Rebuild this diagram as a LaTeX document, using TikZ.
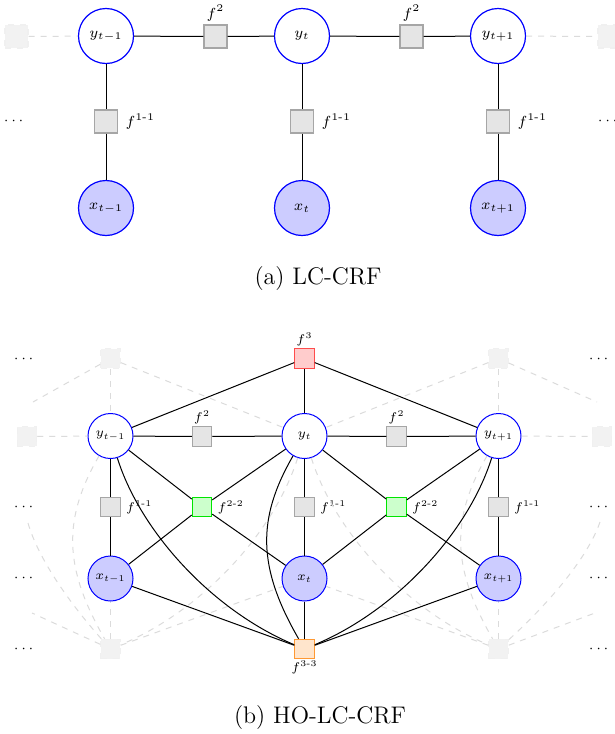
\RequirePackage{fix-cm}
\documentclass[tikz,border=0pt]{standalone}
\usepackage{amsmath}
\usetikzlibrary{positioning}
\begin{document}
\begin{tikzpicture}[x=0.5pt,y=-0.5pt,
  % top graph (a)
  vara/.style={circle,draw=blue,line width=0.6pt,minimum size=27.5pt,inner sep=0pt,
               font=\fontsize{7.3}{9}\selectfont},
  obsa/.style={vara,fill=blue!20},
  faca/.style={rectangle,draw=gray!70,fill=gray!20,line width=0.6pt,minimum size=11.5pt,inner sep=0pt},
  ghosta/.style={faca,draw=gray!12,fill=gray!10,dashed},
  lbla/.style={font=\fontsize{7.3}{9}\selectfont,inner sep=2pt},
  % bottom graph (b)
  varb/.style={circle,draw=blue,line width=0.5pt,minimum size=22.5pt,inner sep=0pt,
               font=\fontsize{6.3}{8}\selectfont},
  obsb/.style={varb,fill=blue!20},
  facb/.style={rectangle,draw=gray!70,fill=gray!20,line width=0.5pt,minimum size=9.75pt,inner sep=0pt},
  ghostb/.style={facb,draw=gray!12,fill=gray!10,dashed},
  lblb/.style={font=\fontsize{6.3}{8}\selectfont,inner sep=2pt},
  edgea/.style={line width=0.5pt},
  edgeb/.style={line width=0.5pt},
  ghostline/.style={draw=gray!28,dashed,line width=0.5pt},
  dotsn/.style={font=\fontsize{7}{8}\selectfont,inner sep=0pt},
  captiontext/.style={font=\fontsize{12}{14}\selectfont}
]
\useasboundingbox (0,0) rectangle (615,734);

% ---------------- (a) LC-CRF ----------------
\node[ghosta] (a-gl) at (16.5,36.5) {};
\node[ghosta] (a-gr) at (609.5,36.5) {};
\node[vara] (a-y1) at (106,36) {$y_{t-1}$};
\node[vara] (a-y2) at (302,36) {$y_t$};
\node[vara] (a-y3) at (498,36) {$y_{t+1}$};
\node[obsa] (a-x1) at (106,208) {$x_{t-1}$};
\node[obsa] (a-x2) at (302,208) {$x_t$};
\node[obsa] (a-x3) at (498,208) {$x_{t+1}$};
\node[faca] (a-f2a) at (215.5,36.5) {};
\node[faca] (a-f2b) at (411.5,36.5) {};
\node[faca] (a-f1a) at (106,121.5) {};
\node[faca] (a-f1b) at (302,121.5) {};
\node[faca] (a-f1c) at (498,121.5) {};
\node[lbla,above=-0.5pt of a-f2a] (a-l2a) {$f^2$};
\node[lbla,above=-0.5pt of a-f2b] (a-l2b) {$f^2$};
\node[lbla,right=1.5pt of a-f1a] (a-l1a) {$f^{\text{1-1}}$};
\node[lbla,right=1.5pt of a-f1b] (a-l1b) {$f^{\text{1-1}}$};
\node[lbla,right=1.5pt of a-f1c] (a-l1c) {$f^{\text{1-1}}$};
\node[dotsn] (a-dl) at (15,121) {$\cdots$};
\node[dotsn] (a-dr) at (609,121) {$\cdots$};

\draw[ghostline] (a-gl) -- (a-y1);
\draw[ghostline] (a-y3) -- (a-gr);
\draw[edgea] (a-y1) -- (a-f2a) -- (a-y2) -- (a-f2b) -- (a-y3);
\draw[edgea] (a-y1) -- (a-f1a) -- (a-x1);
\draw[edgea] (a-y2) -- (a-f1b) -- (a-x2);
\draw[edgea] (a-y3) -- (a-f1c) -- (a-x3);

\node[captiontext] (a-cap) at (318,279) {(a) LC-CRF};

% ---------------- (b) HO-LC-CRF ----------------
% faded neighbouring factors
\node[ghostb] (b-gtl) at (110.5,358.5) {};
\node[ghostb] (b-gtr) at (498.5,358.5) {};
\node[ghostb] (b-gml) at (27,436.5) {};
\node[ghostb] (b-gmr) at (602,436.5) {};
\node[ghostb] (b-gbl) at (110.5,649) {};
\node[ghostb] (b-gbr) at (498.5,649) {};
\coordinate (b-etl) at (33,402);
\coordinate (b-etr) at (597,402);
\coordinate (b-ebl) at (32,613);
\coordinate (b-ebr) at (595,613);
\coordinate (b-cbl) at (28,523);
\coordinate (b-cbr) at (600,522);

\node[varb] (b-y1) at (110.5,436) {$y_{t-1}$};
\node[varb] (b-y2) at (304.5,436) {$y_t$};
\node[varb] (b-y3) at (498.5,436) {$y_{t+1}$};
\node[obsb] (b-x1) at (110.5,578.5) {$x_{t-1}$};
\node[obsb] (b-x2) at (304.5,578.5) {$x_t$};
\node[obsb] (b-x3) at (498.5,578.5) {$x_{t+1}$};

\node[facb,draw=red!70,fill=red!20] (b-f3) at (304.5,358.5) {};
\node[facb] (b-f2a) at (202,436.5) {};
\node[facb] (b-f2b) at (396.5,436.5) {};
\node[facb] (b-f1a) at (110.5,507) {};
\node[facb] (b-f1b) at (304.5,507) {};
\node[facb] (b-f1c) at (498.5,507) {};
\node[facb,draw=green!90!black,fill=green!20] (b-f22a) at (202,507) {};
\node[facb,draw=green!90!black,fill=green!20] (b-f22b) at (396.5,507) {};
\node[facb,draw=orange!80,fill=orange!20] (b-f33) at (304.5,649) {};

\node[lblb,above=-1pt of b-f3] (b-l3) {$f^3$};
\node[lblb,above=-1pt of b-f2a] (b-l2a) {$f^2$};
\node[lblb,above=-1pt of b-f2b] (b-l2b) {$f^2$};
\node[lblb,right=0.5pt of b-f1a] (b-l1a) {$f^{\text{1-1}}$};
\node[lblb,right=0.5pt of b-f1b] (b-l1b) {$f^{\text{1-1}}$};
\node[lblb,right=0.5pt of b-f1c] (b-l1c) {$f^{\text{1-1}}$};
\node[lblb,right=0.5pt of b-f22a] (b-l22a) {$f^{\text{2-2}}$};
\node[lblb,right=0.5pt of b-f22b] (b-l22b) {$f^{\text{2-2}}$};
\node[lblb,below=-1.5pt of b-f33] (b-l33) {$f^{\text{3-3}}$};

\foreach \yy/\nm in {359/a,507/b,578/c,649/d}{
  \node[dotsn] (b-dl\nm) at (25,\yy) {$\cdots$};
  \node[dotsn] (b-dr\nm) at (600,\yy) {$\cdots$};
}

% faded connectors
\draw[ghostline] (b-gtl) -- (b-etl);
\draw[ghostline] (b-gtl) -- (b-y1);
\draw[ghostline] (b-gtl) -- (b-y2);
\draw[ghostline] (b-gtr) -- (b-etr);
\draw[ghostline] (b-gtr) -- (b-y3);
\draw[ghostline] (b-gtr) -- (b-y2);
\draw[ghostline] (b-gml) -- (b-y1);
\draw[ghostline] (b-y3) -- (b-gmr);
\draw[ghostline] (b-gbl) -- (b-ebl);
\draw[ghostline] (b-gbl) -- (b-x1);
\draw[ghostline] (b-gbl) -- (b-x2);
\draw[ghostline] (b-cbl) .. controls (40,565) and (80,615) .. (b-gbl);
\draw[ghostline] (b-y1) .. controls (63,518.3) and (63,566.7) .. (b-gbl);
\draw[ghostline] (b-y2) .. controls (274.7,531.5) and (202.8,610.4) .. (b-gbl);
\draw[ghostline] (b-gbr) -- (b-ebr);
\draw[ghostline] (b-gbr) -- (b-x3);
\draw[ghostline] (b-gbr) -- (b-x2);
\draw[ghostline] (b-cbr) .. controls (585,565) and (536,615) .. (b-gbr);
\draw[ghostline] (b-y3) .. controls (451,518.3) and (451,566.7) .. (b-gbr);
\draw[ghostline] (b-y2) .. controls (334.3,531.5) and (406.2,610.4) .. (b-gbr);

% connectors
\draw[edgeb] (b-f3) -- (b-y1);
\draw[edgeb] (b-f3) -- (b-y2);
\draw[edgeb] (b-f3) -- (b-y3);
\draw[edgeb] (b-y1) -- (b-f2a) -- (b-y2) -- (b-f2b) -- (b-y3);
\draw[edgeb] (b-y1) -- (b-f1a) -- (b-x1);
\draw[edgeb] (b-y2) -- (b-f1b) -- (b-x2);
\draw[edgeb] (b-y3) -- (b-f1c) -- (b-x3);
\foreach \n in {b-y1,b-y2,b-x1,b-x2} \draw[edgeb] (b-f22a) -- (\n);
\foreach \n in {b-y2,b-y3,b-x2,b-x3} \draw[edgeb] (b-f22b) -- (\n);
\draw[edgeb] (b-x1) -- (b-f33);
\draw[edgeb] (b-x2) -- (b-f33);
\draw[edgeb] (b-x3) -- (b-f33);
\draw[edgeb] (b-y1) .. controls (140.3,531.5) and (212.2,610.4) .. (b-f33);
\draw[edgeb] (b-y2) .. controls (257,518.3) and (257,566.7) .. (b-f33);
\draw[edgeb] (b-y3) .. controls (468.7,531.5) and (396.8,610.4) .. (b-f33);

\node[captiontext] (b-cap) at (320,718) {(b) HO-LC-CRF};
\end{tikzpicture}
\end{document}
